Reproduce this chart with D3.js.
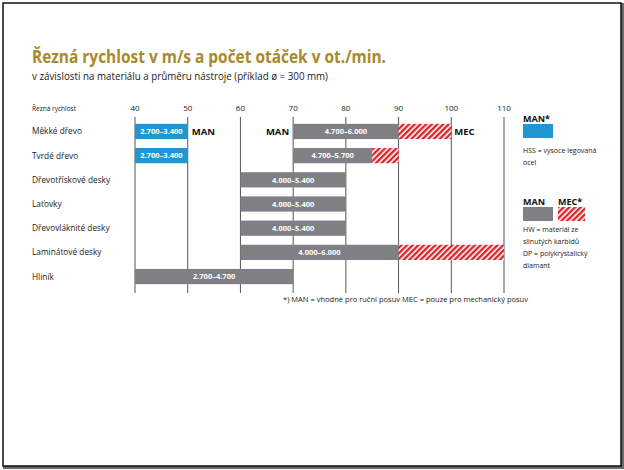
<!DOCTYPE html>
<html>
<head>
<meta charset="utf-8">
<script src="https://cdn.jsdelivr.net/npm/d3@7"></script>
<style>
  body { margin: 0; background: #fff; }
  svg { display: block; font-family: "Open Sans", "DejaVu Sans", sans-serif; }
</style>
</head>
<body>
<svg id="chart" width="624" height="470"></svg>
<script>
// data
const materials = ["Měkké dřevo", "Tvrdé dřevo", "Dřevotřískové desky", "Laťovky", "Dřevovláknité desky", "Laminátové desky", "Hliník"];
const ticks = [40, 50, 60, 70, 80, 90, 100, 110];
// HSS (blue) bars: [row, from, to, label]
const hssBars = [
  ["Měkké dřevo", 40, 50, "2.700–3.400"],
  ["Tvrdé dřevo", 40, 50, "2.700–3.400"]
];
// HW / DP manual (grey) bars
const manBars = [
  ["Měkké dřevo", 70, 90, "4.700–6.000"],
  ["Tvrdé dřevo", 70, 85, "4.700–5.700"],
  ["Dřevotřískové desky", 60, 80, "4.000–5.400"],
  ["Laťovky", 60, 80, "4.000–5.400"],
  ["Dřevovláknité desky", 60, 80, "4.000–5.400"],
  ["Laminátové desky", 60, 90, "4.000–6.000"],
  ["Hliník", 40, 70, "2.700–4.700"]
];
// mechanical feed (red hatched) extensions
const mecBars = [
  ["Měkké dřevo", 90, 100],
  ["Tvrdé dřevo", 85, 90],
  ["Laminátové desky", 90, 110]
];

const gold = "#a88a2c", blue = "#1f97d4", grey = "#7f8083", red = "#d8262b";

const svg = d3.select("#chart");

// hatch pattern
const defs = svg.append("defs");
const pat = defs.append("pattern")
  .attr("id", "hatch")
  .attr("patternUnits", "userSpaceOnUse")
  .attr("width", 4).attr("height", 4)
  .attr("patternTransform", "rotate(45)");
pat.append("rect").attr("width", 4).attr("height", 4).attr("fill", "#fff");
pat.append("rect").attr("width", 2.4).attr("height", 4).attr("fill", red);

// frame
svg.append("rect").attr("x", 4.5).attr("y", 4.5).attr("width", 618).attr("height", 463)
  .attr("fill", "none").attr("stroke", "#6b6b6b").attr("stroke-width", 3);
svg.append("rect").attr("x", 3).attr("y", 3).attr("width", 618).attr("height", 463)
  .attr("fill", "#fff").attr("stroke", "#111").attr("stroke-width", 1.5);

// title
svg.append("text").attr("x", 32).attr("y", 63)
  .attr("fill", gold).attr("font-size", 17).attr("font-weight", "bold")
  .attr("textLength", 354).attr("lengthAdjust", "spacingAndGlyphs")
  .text("Řezná rychlost v m/s a počet otáček v ot./min.");
svg.append("text").attr("x", 32).attr("y", 80)
  .attr("fill", "#222").attr("font-size", 10)
  .attr("textLength", 296).attr("lengthAdjust", "spacingAndGlyphs")
  .text("v závislosti na materiálu a průměru nástroje (příklad ø = 300 mm)");

const x = d3.scaleLinear().domain([40, 110]).range([135, 504]);
const y = d3.scaleBand().domain(materials).range([119, 289]).paddingInner(0.37).paddingOuter(0.2);

const g = svg.append("g");

// grid lines
g.selectAll("line.grid").data(ticks).enter().append("line")
  .attr("class", "grid")
  .attr("x1", d => x(d)).attr("x2", d => x(d))
  .attr("y1", 117).attr("y2", 293)
  .attr("stroke", "#555").attr("stroke-width", 1);

// tick labels
g.selectAll("text.tick").data(ticks).enter().append("text")
  .attr("class", "tick")
  .attr("x", d => x(d)).attr("y", 111)
  .attr("text-anchor", "middle").attr("font-size", 8).attr("fill", "#222")
  .text(d => d);

svg.append("text").attr("x", 32).attr("y", 111).attr("font-size", 6.5).attr("fill", "#222")
  .text("Řezná rychlost");

// row labels
g.selectAll("text.row").data(materials).enter().append("text")
  .attr("class", "row")
  .attr("x", 32).attr("y", d => y(d) + y.bandwidth() / 2 + 3)
  .attr("font-size", 8.3).attr("fill", "#222")
  .text(d => d);

// bars
function drawBars(data, fill, withLabel) {
  const sel = g.selectAll(null).data(data).enter();
  sel.append("rect")
    .attr("x", d => x(d[1])).attr("width", d => x(d[2]) - x(d[1]))
    .attr("y", d => y(d[0])).attr("height", y.bandwidth())
    .attr("fill", fill);
  if (withLabel) {
    sel.append("text")
      .attr("x", d => (x(d[1]) + x(d[2])) / 2)
      .attr("y", d => y(d[0]) + y.bandwidth() / 2 + 2.8)
      .attr("text-anchor", "middle").attr("font-size", 7.5).attr("font-weight", "bold")
      .attr("fill", "#fff")
      .text(d => d[3]);
  }
}
drawBars(hssBars, blue, true);
drawBars(manBars, grey, true);
drawBars(mecBars, "url(#hatch)", false);

// MAN / MEC tags on first row
const r0 = y(materials[0]) + y.bandwidth() / 2 + 3.5;
g.append("text").attr("x", x(50) + 4).attr("y", r0).attr("font-size", 9.5).attr("font-weight", "bold").attr("fill", "#111").text("MAN");
g.append("text").attr("x", x(70) - 4).attr("y", r0).attr("text-anchor", "end").attr("font-size", 9.5).attr("font-weight", "bold").attr("fill", "#111").text("MAN");
g.append("text").attr("x", x(100) + 3).attr("y", r0).attr("font-size", 9.5).attr("font-weight", "bold").attr("fill", "#111").text("MEC");

// legend
const lg = svg.append("g").attr("font-size", 7).attr("fill", "#222");
lg.append("text").attr("x", 523).attr("y", 122).attr("font-size", 9).attr("font-weight", "bold").attr("fill", "#111").text("MAN*");
lg.append("rect").attr("x", 523).attr("y", 124).attr("width", 30).attr("height", 14).attr("fill", blue);
lg.append("text").attr("x", 523).attr("y", 153).text("HSS = vysoce legovaná");
lg.append("text").attr("x", 523).attr("y", 165).text("ocel");
lg.append("text").attr("x", 523).attr("y", 205).attr("font-size", 9).attr("font-weight", "bold").attr("fill", "#111").text("MAN");
lg.append("text").attr("x", 558).attr("y", 205).attr("font-size", 9).attr("font-weight", "bold").attr("fill", "#111").text("MEC*");
lg.append("rect").attr("x", 523).attr("y", 207).attr("width", 30).attr("height", 14).attr("fill", grey);
lg.append("rect").attr("x", 558).attr("y", 207).attr("width", 27).attr("height", 14).attr("fill", "url(#hatch)");
["HW = materiál ze", "slinutých karbidů", "DP = polykrystalický", "diamant"].forEach((t, i) => {
  lg.append("text").attr("x", 523).attr("y", 232 + i * 12).text(t);
});

// footnote
svg.append("text").attr("x", 283).attr("y", 302).attr("font-size", 7).attr("fill", "#222")
  .attr("textLength", 245).attr("lengthAdjust", "spacingAndGlyphs")
  .text("*) MAN = vhodné pro ruční posuv  MEC = pouze pro mechanický posuv");
</script>
</body>
</html>
